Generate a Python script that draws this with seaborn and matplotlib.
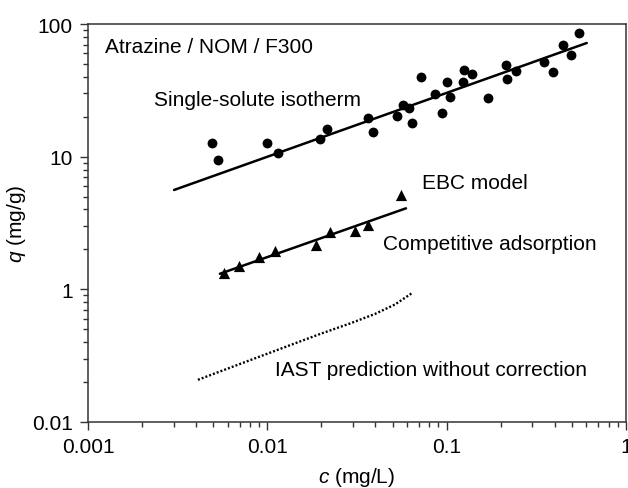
import numpy as np
import pandas as pd
import matplotlib
matplotlib.use("Agg")
import matplotlib.pyplot as plt
import seaborn as sns

sns.set_theme(style="ticks")
plt.rcParams['font.family'] = ['Liberation Sans', 'DejaVu Sans']
plt.rcParams['mathtext.fontset'] = 'custom'
plt.rcParams['mathtext.rm'] = 'Liberation Sans'
plt.rcParams['mathtext.it'] = 'Liberation Sans:italic'
plt.rcParams['text.color'] = 'black'

# single-solute isotherm data (c in mg/L, q in mg/g)
single_c = [0.0049, 0.00533, 0.00992, 0.0115, 0.0197, 0.0214, 0.0363, 0.0387,
            0.0531, 0.0569, 0.0620, 0.0642, 0.0716, 0.0865, 0.0942, 0.100,
            0.1045, 0.124, 0.125, 0.138, 0.169, 0.213, 0.218, 0.244,
            0.349, 0.390, 0.447, 0.492, 0.550]
single_q = [12.6, 9.4, 12.7, 10.7, 13.7, 16.2, 19.6, 15.3,
            20.1, 24.5, 23.2, 17.9, 39.6, 29.7, 21.3, 36.7,
            28.0, 36.4, 45.0, 42.0, 27.7, 49.4, 38.5, 44.0,
            51.4, 43.2, 69.5, 58.7, 86.0]
single_fit_c = [0.00302, 0.604]
single_fit_q = [5.61, 71.9]

# competitive adsorption data
comp_c = [0.00575, 0.00699, 0.00896, 0.0110, 0.0187, 0.0223, 0.0307, 0.0363, 0.0558]
comp_q = [1.33, 1.51, 1.74, 1.94, 2.17, 2.72, 2.77, 3.05, 5.17]
ebc_c = [0.00544, 0.0593]
ebc_q = [1.31, 4.08]

# IAST prediction without correction
iast_c = [0.0041, 0.0091, 0.0197, 0.0289, 0.0398, 0.0515, 0.0638]
iast_q = [0.208, 0.312, 0.461, 0.553, 0.652, 0.769, 0.933]

x_ticks = [0.001, 0.01, 0.1, 1]
x_ticklabels = ["0.001", "0.01", "0.1", "1"]
y_ticks = [0.1, 1, 10, 100]
y_ticklabels = ["0.01", "1", "10", "100"]

fig = plt.figure(figsize=(6.28, 4.89), dpi=100)
ax = fig.add_axes([88 / 628, 1 - 423 / 489, 538 / 628, 398 / 489])

sns.lineplot(x=single_fit_c, y=single_fit_q, ax=ax, color='black', lw=1.8)
sns.lineplot(x=ebc_c, y=ebc_q, ax=ax, color='black', lw=1.8)
sns.lineplot(x=iast_c, y=iast_q, ax=ax, color='black', lw=1.7,
             linestyle=(0, (0.85, 0.85)))
sns.scatterplot(x=single_c, y=single_q, ax=ax, color='black', marker='o',
                s=50, edgecolor='black', linewidth=0, zorder=3)
sns.scatterplot(x=comp_c, y=comp_q, ax=ax, color='black', marker='^',
                s=65, edgecolor='black', linewidth=0, zorder=3)

ax.set_xscale('log')
ax.set_yscale('log')
ax.set_xlim(0.001, 1)
ax.set_ylim(0.1, 100)
ax.set_xticks(x_ticks)
ax.set_xticklabels(x_ticklabels)
ax.set_yticks(y_ticks)
ax.set_yticklabels(y_ticklabels)

ax.tick_params(which='major', direction='out', length=6, width=1,
               color='#333333', labelsize=15, pad=5, labelcolor='black')
ax.tick_params(which='minor', direction='out', length=3.5, width=1,
               color='#333333')
ax.tick_params(top=False, right=False, which='both')
for sp in ax.spines.values():
    sp.set_color('#333333')
    sp.set_linewidth(1.1)

ax.set_xlabel('$c$ (mg/L)', fontsize=15, labelpad=6, color='black')
ax.set_ylabel('$q$ (mg/g)', fontsize=15, labelpad=3, color='black')

fs = 15
ax.text(0.00124, 67.1, 'Atrazine / NOM / F300', fontsize=fs, va='center')
ax.text(0.00233, 27.2, 'Single-solute isotherm', fontsize=fs, va='center')
ax.text(0.0726, 6.41, 'EBC model', fontsize=fs, va='center')
ax.text(0.0440, 2.20, 'Competitive adsorption', fontsize=fs, va='center')
ax.text(0.01104, 0.247, 'IAST prediction without correction', fontsize=fs, va='center')

fig.savefig('out.png', dpi=100)
